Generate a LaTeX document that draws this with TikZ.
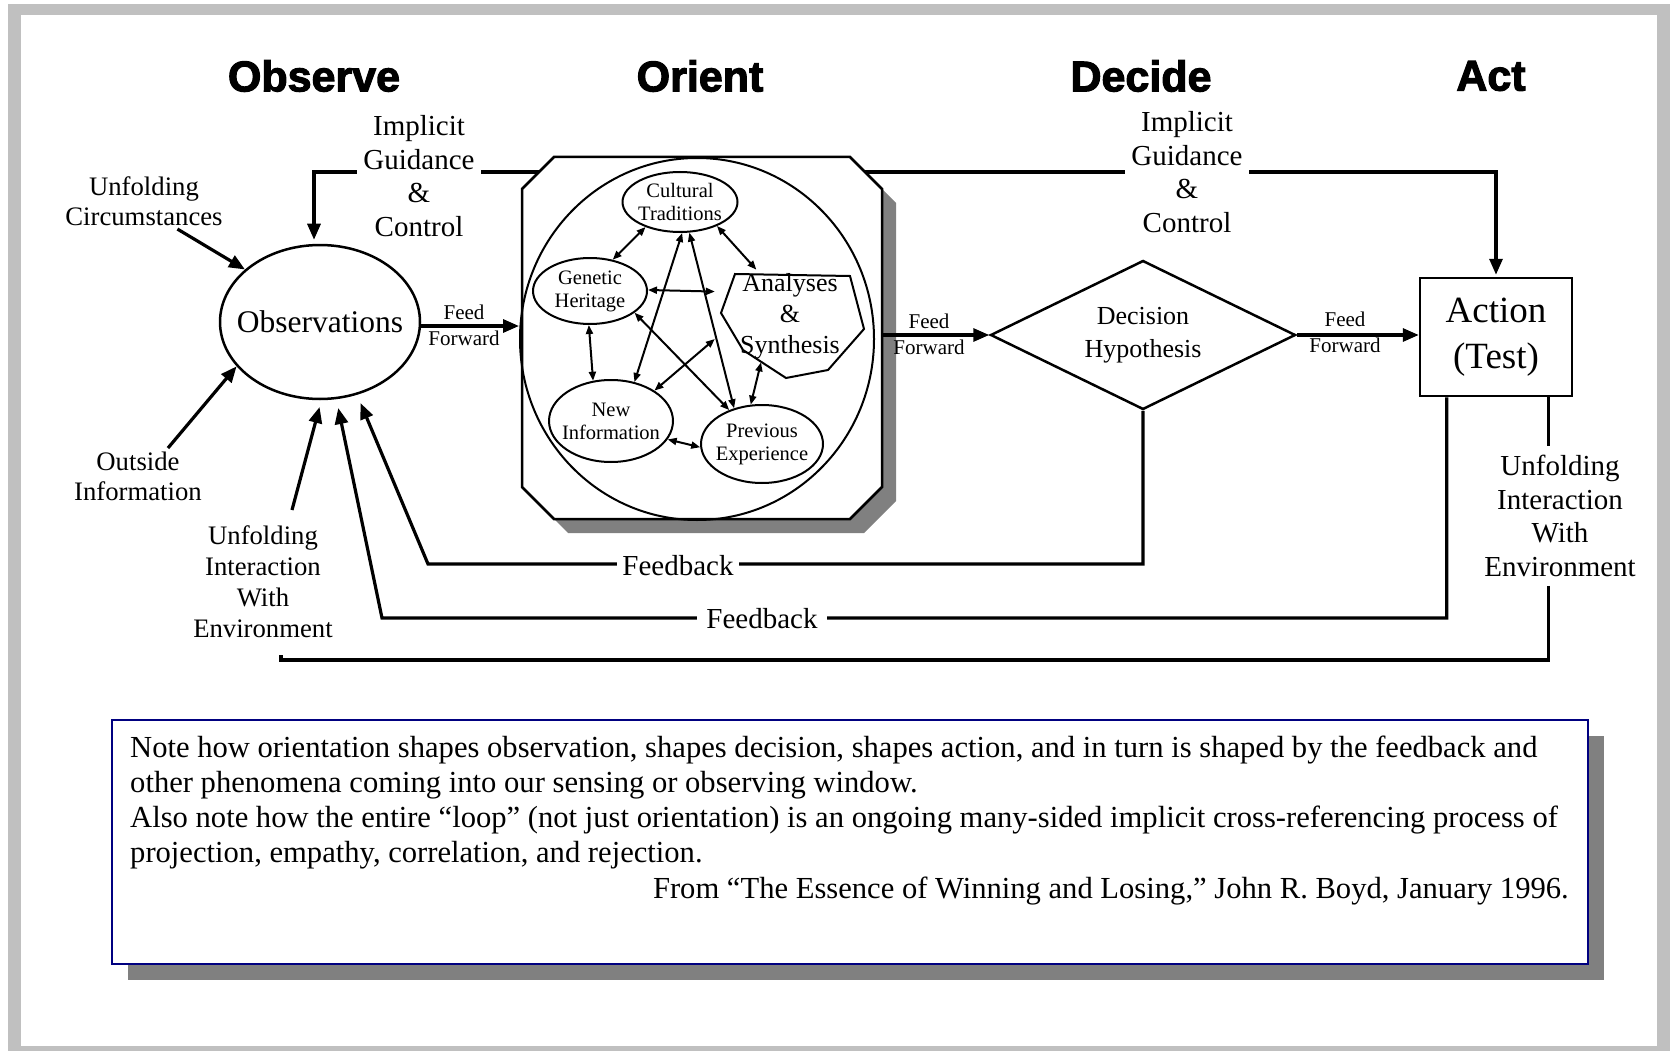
\documentclass[tikz,border=0pt]{standalone}
\usepackage{fontspec}
\setmainfont{Liberation Serif}
\newfontfamily\headfont[FakeBold=2.5]{Liberation Sans}
\usetikzlibrary{arrows.meta,shapes.geometric,shadows,calc}
\definecolor{framegray}{HTML}{C0C0C0}
\definecolor{shadegray}{HTML}{808080}
\definecolor{noteblue}{HTML}{000080}
\tikzset{fat/.style={line width=3.2pt,-{Triangle[length=16pt,width=13pt]}}}
\tikzset{plain/.style={line width=3.2pt}}
\tikzset{both/.style={line width=2pt,{Triangle[length=9pt,width=7pt]}-{Triangle[length=9pt,width=7pt]}}}
\tikzset{oval/.style={ellipse,draw,line width=2pt,inner ysep=0pt,inner xsep=-10pt,align=center,font=\fontsize{20.5}{23}\selectfont}}
\tikzset{lbl/.style={align=center,font=\fontsize{26.7}{31}\selectfont}}
\tikzset{big/.style={align=center,font=\fontsize{29}{33.5}\selectfont}}
\tikzset{ff/.style={align=center,font=\fontsize{21}{26}\selectfont}}
\tikzset{phase/.style={font=\headfont\bfseries\fontsize{43}{50}\selectfont}}
\tikzset{gap/.style={fill=white,inner xsep=#1,inner ysep=0pt}}
\tikzset{shade/.style={drop shadow={shadow xshift=#1,shadow yshift=-#1,fill=shadegray,opacity=1}}}

\begin{document}
\begin{tikzpicture}[x=1pt,y=-1pt]
\useasboundingbox (0,0) rectangle (1670,1051);
\fill[white] (0,0) rectangle (1670,1051);
\fill[framegray] (8,4) rectangle (1670,1051);
\fill[white] (21,15) rectangle (1657,1046);

\node[phase] (obsv) at (314,76) {Observe};
\node[phase] (ornt) at (700,76) {Orient};
\node[phase] (dcde) at (1141,76) {Decide};
\node[phase] (act0) at (1491,76) {Act};

\node[oval,line width=2.5pt,inner xsep=-30pt,minimum width=200pt,minimum height=154pt,font=\fontsize{31.5}{36}\selectfont] (obs) at (320,322) {Observations};

\fill[shadegray,shift={(14,14)}] (554,157) -- (850,157) -- (882,189) -- (882,487) -- (850,519) -- (554,519) -- (522,487) -- (522,189) -- cycle;
\draw[fill=white,line width=2.5pt] (554,157) -- (850,157) -- (882,189) -- (882,487) -- (850,519) -- (554,519) -- (522,487) -- (522,189) -- cycle;
\node[minimum width=360pt,minimum height=362pt,inner sep=0pt] (orient) at (702,338) {};
\node[ellipse,draw,line width=2pt,minimum width=354pt,minimum height=362pt] (ring) at (697,339) {};

\node[oval,minimum width=115pt,minimum height=60pt] (ct) at (680,202) {Cultural\\Traditions};
\node[oval,minimum width=114pt,minimum height=66pt] (gh) at (590,291) {Genetic\\Heritage};
\node[oval,minimum width=124pt,minimum height=82pt] (ni) at (611,421) {New\\Information};
\node[oval,minimum width=122pt,minimum height=78pt] (pe) at (762,444) {Previous\\Experience};
\draw[line width=2pt] (735,274) -- (850,276) -- (864,329) -- (828,370) -- (786,378) -- (743,350) -- (721,313) -- cycle;
\node[align=center,font=\fontsize{26}{31}\selectfont,minimum width=150pt,minimum height=90pt] (as) at (790,316) {Analyses\\\&\\Synthesis};

\draw[both] (ct.216) -- (gh.54);
\draw[both] (ct.327) -- (as.126);
\draw[both] (gh.1) -- (as.162);
\draw[both] (gh.268) -- (ni.114);
\draw[both] (ni.342) -- (pe.183);
\draw[both] (as.238) -- (pe.106);
\draw[both] (ct.274) -- (ni.59);
\draw[both] (ct.287) -- (pe.128);
\draw[both] (gh.334) -- (pe.134);
\draw[both] (as.197) -- (ni.35);

\node[diamond,draw,line width=2.5pt,aspect=2,inner sep=0pt,minimum width=305pt,minimum height=149pt,align=center,font=\fontsize{26}{33}\selectfont] (dh) at (1143,335) {Decision\\Hypothesis};
\node[draw,line width=2.5pt,minimum width=152pt,minimum height=118pt,align=center,font=\fontsize{37}{46}\selectfont] (act) at (1496,337) {Action\\(Test)};

\draw[fat] ([yshift=-4pt]obs.east) -- ([yshift=-4pt]obs.east -| ring.west);
\node[ff] (ff1) at (464,325) {Feed\\Forward};
\draw[fat] (dh.west -| orient.east) -- (dh.west);
\node[ff] (ff2) at (929,334) {Feed\\Forward};
\draw[fat] (dh.east) -- (dh.east -| act.west);
\node[ff] (ff3) at (1345,332) {Feed\\Forward};

\coordinate (igl) at (539,172);
\coordinate (igr) at (865,172);
\draw[fat,shorten >=4pt] (igl) -| ([xshift=-6pt]obs.north);
\draw[fat,shorten >=2pt] (igr) -| (act.north);
\node[big,gap=6pt] (igcl) at (419,176) {Implicit\\Guidance\\\&\\Control};
\node[big,gap=6pt] (igcr) at (1187,172) {Implicit\\Guidance\\\&\\Control};

\node[lbl,font=\fontsize{26.7}{30}\selectfont] (uc) at (144,201) {Unfolding\\Circumstances};
\draw[fat] (uc.-40) -- (obs.145);
\node[lbl,font=\fontsize{26.7}{30}\selectfont] (oi) at (138,476) {Outside\\Information};
\draw[fat] (oi.43) -- (obs.208);
\node[lbl] (uiel) at (263,582) {Unfolding\\Interaction\\With\\Environment};
\coordinate (uielt) at (292,510);
\draw[fat,shorten >=7pt] (uielt) -- (obs.271);

\coordinate (fb1) at (428,564);
\draw[fat,shorten >=9pt] (dh.south) |- (fb1) -- (obs.297);
\node[big,gap=5pt] (fbl1) at (678,566) {Feedback};
\coordinate (fb2) at (382,618);
\draw[fat,shorten >=9pt] ([xshift=28pt]act.south west) |- (fb2) -- (obs.282);
\node[big,gap=9pt] (fbl2) at (762,619) {Feedback};

\node[big,inner ysep=9pt] (uier) at (1560,516) {Unfolding\\Interaction\\With\\Environment};
\coordinate (legr) at ([xshift=-25pt]act.south east);
\coordinate (envc) at (281,660);
\draw[plain] (legr) -- (legr |- uier.north);
\draw[plain] (legr |- uier.south) |- (envc) -- ++(0,-5);

\node[draw=noteblue,line width=1.5pt,fill=white,minimum width=1476pt,minimum height=244pt,shade=16pt] (note) at (850,842) {};
\node[anchor=north west,align=left,inner sep=0pt,font=\fontsize{30.6}{35}\selectfont] (notetxt) at (130,736) {Note how orientation shapes observation, shapes decision, shapes action, and in turn is shaped by the feedback and\\other phenomena coming into our sensing or observing window.\\Also note how the entire “loop” (not just orientation) is an ongoing many-sided implicit cross-referencing process of\\projection, empathy, correlation, and rejection.};
\node[anchor=base east,inner sep=0pt,font=\fontsize{30.6}{35}\selectfont] (cite) at (1569,898) {From “The Essence of Winning and Losing,” John R. Boyd, January 1996.};
\end{tikzpicture}
\end{document}
